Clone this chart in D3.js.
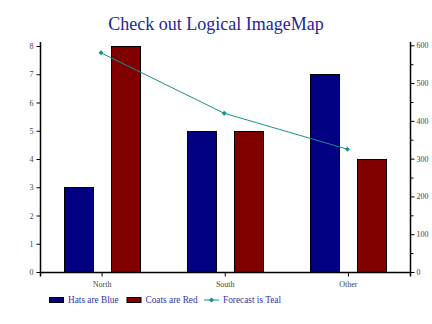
<!DOCTYPE html>
<html>
<head>
<meta charset="utf-8">
<script src="https://cdn.jsdelivr.net/npm/d3@7"></script>
<style>
  body { margin: 0; background: #fff; }
  text { font-family: "Liberation Serif", "Times New Roman", serif; }
</style>
</head>
<body>
<script>
// chart data
const regions = ["North", "South", "Other"];
const hats = [3, 5, 7];
const coats = [8, 5, 4];
const forecast = [580, 420, 325];
const leftTicks = [0, 1, 2, 3, 4, 5, 6, 7, 8];
const rightTicks = [0, 100, 200, 300, 400, 500, 600];
const rightMinor = [50, 150, 250, 350, 450, 550];
const legendLabels = ["Hats are Blue", "Coats are Red", "Forecast is Teal"];

const width = 432;
const height = 324;
const margin = { top: 46, right: 22, bottom: 52, left: 40.5 };

const svg = d3.select("body").append("svg")
    .attr("width", width)
    .attr("height", height);

// title
svg.append("text")
    .attr("x", 216)
    .attr("y", 30)
    .attr("text-anchor", "middle")
    .attr("font-size", 18)
    .attr("fill", "#24249c")
    .text("Check out Logical ImageMap");

const x = d3.scaleBand()
    .domain(regions)
    .range([margin.left, width - margin.right]);

const yLeft = d3.scaleLinear()
    .domain([0, 8])
    .range([272, margin.top]);

const yRight = d3.scaleLinear()
    .domain([0, 600])
    .range([272, 45.3]);

// bars
const barW = 29;
const gap = 9;
const g = svg.append("g");

g.selectAll(".hat")
  .data(hats)
  .join("rect")
    .attr("x", (d, i) => Math.round(x(regions[i]) + x.bandwidth() / 2 - gap - barW) + 0.5)
    .attr("y", d => Math.round(yLeft(d)) + 0.5)
    .attr("width", barW)
    .attr("height", d => Math.round(yLeft(0)) - Math.round(yLeft(d)))
    .attr("fill", "#000080")
    .attr("stroke", "#000")
    .attr("stroke-width", 1);

g.selectAll(".coat")
  .data(coats)
  .join("rect")
    .attr("x", (d, i) => Math.round(x(regions[i]) + x.bandwidth() / 2 + gap) + 0.5)
    .attr("y", d => Math.round(yLeft(d)) + 0.5)
    .attr("width", barW)
    .attr("height", d => Math.round(yLeft(0)) - Math.round(yLeft(d)))
    .attr("fill", "#800000")
    .attr("stroke", "#000")
    .attr("stroke-width", 1);

// axes
const axisColor = "#000";
const labelColor = "#444";

const leftAxis = svg.append("g")
    .attr("transform", `translate(${margin.left},0)`)
    .call(d3.axisLeft(yLeft).tickValues(leftTicks).tickSize(4).tickPadding(3));
leftAxis.select(".domain").attr("d", "M0,42V272.5");

const rightX = width - margin.right + 0.5;
svg.append("g")
    .attr("transform", `translate(${rightX},0)`)
    .call(d3.axisRight(yRight).tickValues(rightMinor).tickSize(3).tickFormat(""))
    .select(".domain").remove();
const rightAxis = svg.append("g")
    .attr("transform", `translate(${rightX},0)`)
    .call(d3.axisRight(yRight).tickValues(rightTicks).tickSize(4).tickPadding(2));
rightAxis.select(".domain").attr("d", "M0,42V272.5");

const bottomAxis = svg.append("g")
    .attr("transform", "translate(0,272.5)")
    .call(d3.axisBottom(x).tickSize(4).tickPadding(5));
bottomAxis.select(".domain").attr("d", `M${margin.left},4V0H${rightX}V4`);

[leftAxis, rightAxis, bottomAxis].forEach(a => {
  a.selectAll(".domain").attr("stroke", axisColor).attr("stroke-width", 1.5);
  a.selectAll("line").attr("stroke", axisColor);
  a.selectAll("text")
      .attr("font-family", "Liberation Serif, serif")
      .attr("font-size", 8)
      .attr("fill", labelColor);
});

// forecast line
const teal = "#159090";
const line = d3.line()
    .x((d, i) => x(regions[i]) + x.bandwidth() / 2 - 1)
    .y(d => yRight(d));

svg.append("path")
    .datum(forecast)
    .attr("d", line)
    .attr("fill", "none")
    .attr("stroke", teal)
    .attr("stroke-width", 1);

svg.selectAll(".pt")
  .data(forecast)
  .join("path")
    .attr("transform", (d, i) => `translate(${x(regions[i]) + x.bandwidth() / 2 - 1},${yRight(d)})`)
    .attr("d", d3.symbol(d3.symbolDiamond2, 16))
    .attr("fill", teal);

// legend
const legend = svg.append("g").attr("transform", "translate(0,300)");
const legendX = [49, 126.5, 204];
const swatchFill = ["#000080", "#800000"];

legend.selectAll(".sw")
  .data(swatchFill)
  .join("rect")
    .attr("x", (d, i) => legendX[i] + 0.5)
    .attr("y", -2.5)
    .attr("width", 14)
    .attr("height", 5)
    .attr("fill", d => d)
    .attr("stroke", "#000");

legend.append("line")
    .attr("x1", legendX[2]).attr("x2", legendX[2] + 15)
    .attr("y1", 0).attr("y2", 0)
    .attr("stroke", teal);
legend.append("path")
    .attr("transform", `translate(${legendX[2] + 7.5},0)`)
    .attr("d", d3.symbol(d3.symbolDiamond2, 16))
    .attr("fill", teal);

legend.selectAll(".lbl")
  .data(legendLabels)
  .join("text")
    .attr("x", (d, i) => legendX[i] + 19)
    .attr("y", 3)
    .attr("font-size", 9.3)
    .attr("fill", "#3434a8")
    .text(d => d);
</script>
</body>
</html>
